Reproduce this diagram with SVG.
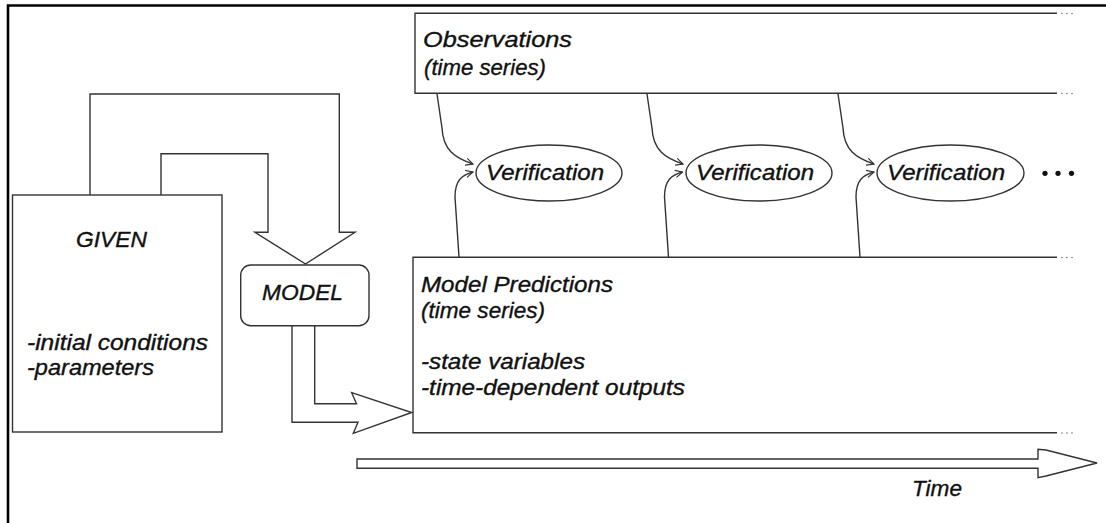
<svg xmlns="http://www.w3.org/2000/svg" width="1106" height="523" viewBox="0 0 1106 523">
  <style>
    .ln { fill: none; stroke: #333; stroke-width: 1.4; stroke-linejoin: miter; }
    .box { fill: #fff; stroke: #333; stroke-width: 1.4; }
    .t { font-family: "Liberation Sans", Arial, sans-serif; font-style: italic; font-size: 22px; fill: #111; stroke: #111; stroke-width: 0.35; }
    .dots { fill: #777; }
    .bigdot { fill: #111; }
  </style>
  <defs>
    <marker id="open" viewBox="0 0 10 10" refX="9" refY="5" markerWidth="9" markerHeight="9" markerUnits="userSpaceOnUse" orient="auto">
      <path d="M1,1 L9,5 L1,9" fill="none" stroke="#333" stroke-width="1.3"/>
    </marker>
  </defs>

  <rect width="1106" height="523" fill="#fff"/>

  <!-- page frame (top and left edges) -->
  <path d="M8,523 L8,5.5 L1106,5.5" fill="none" stroke="#000" stroke-width="2.6"/>

  <!-- GIVEN -->
  <g id="given">
    <rect class="box" x="12.5" y="195" width="209.5" height="237"/>
    <text class="t" x="76" y="247" textLength="71" lengthAdjust="spacingAndGlyphs">GIVEN</text>
    <text class="t" x="27" y="350" textLength="181" lengthAdjust="spacingAndGlyphs">-initial conditions</text>
    <text class="t" x="27" y="375" textLength="127" lengthAdjust="spacingAndGlyphs">-parameters</text>
  </g>

  <!-- MODEL -->
  <g id="model">
    <rect class="box" x="240.7" y="265" width="128.3" height="60.7" rx="10" ry="10"/>
    <text class="t" x="262" y="300" textLength="81" lengthAdjust="spacingAndGlyphs">MODEL</text>
  </g>

  <!-- Observations: open-ended strip -->
  <g id="observations">
    <path class="ln" d="M1057,13.3 L415,13.3 L415,93.3 L1057,93.3"/>
    <g class="dots">
      <circle cx="1062" cy="13.5" r="0.8"/><circle cx="1067" cy="13.5" r="0.8"/><circle cx="1072" cy="13.5" r="0.8"/>
      <circle cx="1062" cy="93.5" r="0.8"/><circle cx="1067" cy="93.5" r="0.8"/><circle cx="1072" cy="93.5" r="0.8"/>
    </g>
    <text class="t" x="423" y="47" textLength="149" lengthAdjust="spacingAndGlyphs">Observations</text>
    <text class="t" x="424" y="75" textLength="122" lengthAdjust="spacingAndGlyphs">(time series)</text>
  </g>

  <!-- Model Predictions: open-ended strip -->
  <g id="predictions">
    <path class="ln" d="M1057,257.3 L413,257.3 L413,432.7 L1057,432.7"/>
    <g class="dots">
      <circle cx="1062" cy="257.5" r="0.8"/><circle cx="1067" cy="257.5" r="0.8"/><circle cx="1072" cy="257.5" r="0.8"/>
      <circle cx="1062" cy="433" r="0.8"/><circle cx="1067" cy="433" r="0.8"/><circle cx="1072" cy="433" r="0.8"/>
    </g>
    <text class="t" x="421" y="292" textLength="192" lengthAdjust="spacingAndGlyphs">Model Predictions</text>
    <text class="t" x="421" y="318" textLength="124" lengthAdjust="spacingAndGlyphs">(time series)</text>
    <text class="t" x="421" y="369" textLength="164" lengthAdjust="spacingAndGlyphs">-state variables</text>
    <text class="t" x="421" y="395" textLength="264" lengthAdjust="spacingAndGlyphs">-time-dependent outputs</text>
  </g>

  <!-- Verification steps -->
  <g id="verification1">
    <ellipse class="box" cx="549" cy="173" rx="73" ry="28"/>
    <text class="t" x="486" y="180" textLength="118" lengthAdjust="spacingAndGlyphs">Verification</text>
  </g>
  <g id="verification2">
    <ellipse class="box" cx="759" cy="173" rx="73" ry="28"/>
    <text class="t" x="696" y="180" textLength="118" lengthAdjust="spacingAndGlyphs">Verification</text>
  </g>
  <g id="verification3">
    <ellipse class="box" cx="950.5" cy="173" rx="73.5" ry="28"/>
    <text class="t" x="887" y="180" textLength="118" lengthAdjust="spacingAndGlyphs">Verification</text>
  </g>
  <g id="more">
    <circle class="bigdot" cx="1045" cy="173.3" r="2.6"/>
    <circle class="bigdot" cx="1058" cy="173.3" r="2.6"/>
    <circle class="bigdot" cx="1071.5" cy="173.3" r="2.6"/>
  </g>

  <!-- Time axis -->
  <g id="time">
    <path class="ln" d="M357,459 L1038,459 L1038,449.3 L1046,450 L1097,463 L1046,476 L1038,477.7 L1038,468.3 L357,468.3 Z"/>
    <text class="t" x="912" y="496" textLength="50" lengthAdjust="spacingAndGlyphs">Time</text>
  </g>

  <g id="connectors">
    <!-- GIVEN into MODEL: wide block arrow -->
    <path class="ln" d="M90,195 L90,94 L339.3,94 L339.3,232.3 L355,232.3 L305.5,264 L255,232.3 L268,232.3 L268,153.7 L161,153.7 L161,195"/>
    <!-- MODEL into Model Predictions: wide block arrow -->
    <path class="ln" d="M292,326 L292,422.3 L358,422.3 L353.3,433.3 L411.7,412.5 L351.7,392.7 L356.5,403.7 L314.7,403.7 L314.7,326"/>

    <!-- Observations / predictions into each verification -->
    <path class="ln" marker-end="url(#open)" d="M437,94 L442,128 C443,150 455,158 473,164"/>
    <path class="ln" marker-end="url(#open)" d="M459,257 L455,197 C455,180 462,175 473,172"/>
    <path class="ln" marker-end="url(#open)" d="M647,94 L652,128 C653,150 665,158 683,164"/>
    <path class="ln" marker-end="url(#open)" d="M668.5,257 L664.5,197 C664.5,180 671.5,175 682.5,172"/>
    <path class="ln" marker-end="url(#open)" d="M838,94 L843,128 C844,150 856,158 874,164"/>
    <path class="ln" marker-end="url(#open)" d="M860,257 L856,197 C856,180 863,175 874,172"/>
  </g>
</svg>
